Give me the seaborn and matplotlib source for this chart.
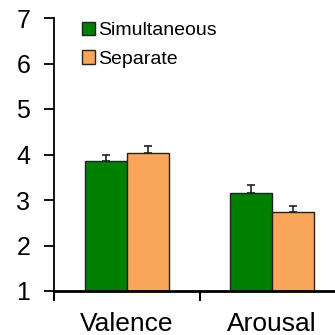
import numpy as np
import pandas as pd
import seaborn as sns
import matplotlib.pyplot as plt
from matplotlib.patches import Patch

# values
dims = ["Valence", "Arousal"]
conditions = ["Simultaneous", "Separate"]
simultaneous = [3.85, 3.16]
separate = [4.04, 2.74]
sim_err = [0.13, 0.16]
sep_err = [0.14, 0.13]
colors = ["#008000", "#F9A65A"]

df = pd.DataFrame({
    "dim": dims * 2,
    "cond": [conditions[0]] * 2 + [conditions[1]] * 2,
    "score": simultaneous + separate,
})

sns.set_style("white")
plt.rcParams["font.family"] = ["Liberation Sans", "DejaVu Sans"]
plt.rcParams["text.color"] = "black"
plt.rcParams["xtick.color"] = "black"
plt.rcParams["ytick.color"] = "black"

fig = plt.figure(figsize=(3.35, 3.35), dpi=100)
ax = fig.add_axes([54 / 335, 44 / 335, 291 / 335, 273 / 335])

sns.barplot(data=df, x="dim", y="score", hue="cond", order=dims,
            hue_order=conditions, palette=colors, saturation=1, width=0.58,
            edgecolor="#222222", linewidth=1.0, errorbar=None, ax=ax)

# one-sided error bars on top of each bar
for cont, errs in zip(ax.containers, [sim_err, sep_err]):
    for bar, e in zip(cont, errs):
        xc = bar.get_x() + bar.get_width() / 2
        h = bar.get_height()
        ax.errorbar(xc, h, yerr=[[0], [e]], fmt="none", ecolor="#222222",
                    elinewidth=1.2, capsize=2.7, capthick=1.2)

ax.set_ylim(1, 7)
ax.set_xlim(-0.5, 1.5)
ax.set_yticks(range(1, 8))
ax.set_xlabel("")
ax.set_ylabel("")

for s in ["top", "right"]:
    ax.spines[s].set_visible(False)
ax.spines["left"].set_linewidth(1.3)
ax.spines["bottom"].set_linewidth(2.0)
ax.spines["left"].set_color("black")
ax.spines["bottom"].set_color("black")

ax.tick_params(axis="y", which="major", direction="out", length=7, width=1.3,
               labelsize=18, pad=10, left=True, color="black", labelcolor="black")
ax.tick_params(axis="x", which="major", length=0, labelsize=19, pad=15,
               labelcolor="black")
ax.set_xticks([-0.5, 0.5, 1.5], minor=True)
ax.tick_params(axis="x", which="minor", direction="out", length=7, width=1.5,
               bottom=True, color="black")

ax.get_legend().remove()
handles = [Patch(facecolor=c, edgecolor="#222222", linewidth=1.0) for c in colors]
fig.legend(handles, conditions, loc="upper left",
           bbox_to_anchor=(82 / 335, 1 - 22 / 335), frameon=False,
           fontsize=14, handlelength=0.68, handleheight=0.68,
           handletextpad=0.15, labelspacing=0.55, borderpad=0,
           borderaxespad=0)

fig.savefig("out.png", dpi=100)
